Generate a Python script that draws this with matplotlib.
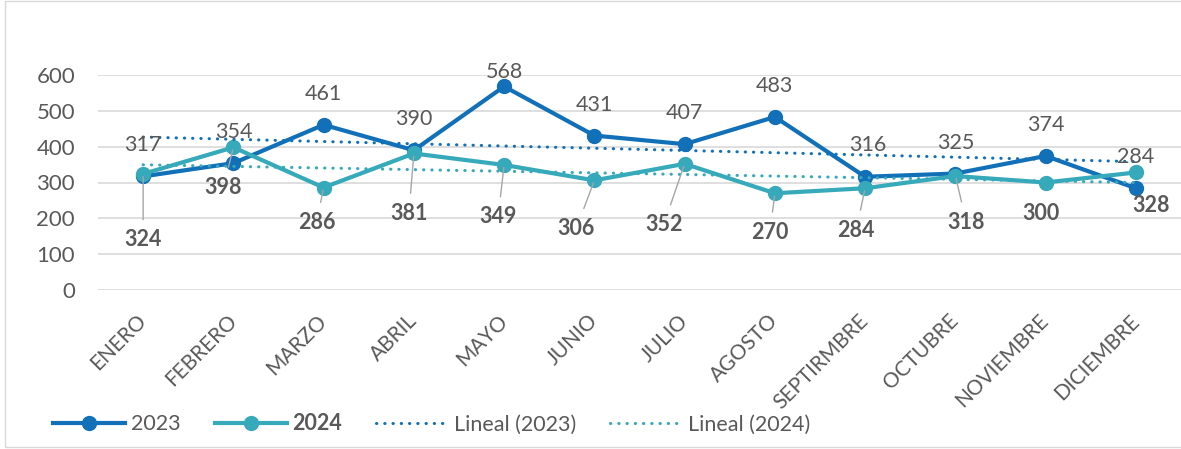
import numpy as np
import matplotlib
matplotlib.use("Agg")
import matplotlib.pyplot as plt
from matplotlib.lines import Line2D
from matplotlib.patches import Rectangle

meses = ["ENERO", "FEBRERO", "MARZO", "ABRIL", "MAYO", "JUNIO", "JULIO",
         "AGOSTO", "SEPTIRMBRE", "OCTUBRE", "NOVIEMBRE", "DICIEMBRE"]
v2023 = [317, 354, 461, 390, 568, 431, 407, 483, 316, 325, 374, 284]
v2024 = [324, 398, 286, 381, 349, 306, 352, 270, 284, 318, 300, 328]

# label offsets in pixels (Excel moved some of them around)
off2023 = [(0, 31)] * 4 + [(0, 14)] + [(0, 31)] * 3 + [(3, 32)] + [(0, 31)] * 3
off2024 = [(0, -66), (-10, -40), (-7, -35), (-5, -60), (-6, -52), (-18, -48),
           (-21, -61), (-5, -39), (-9, -42), (11, -46), (-5, -31), (15, -33)]
leader2024 = [True] * 10 + [False, False]

c23 = "#1170b8"
c24 = "#36a9ba"
gris = "#595959"

plt.rcParams["font.family"] = ["Lato", "DejaVu Sans"]

fig = plt.figure(figsize=(11.81, 4.49), dpi=100)
fig.patches.append(Rectangle((5 / 1181, 2 / 449), 1.2, 1 - 3 / 449,
                             transform=fig.transFigure, fill=False,
                             edgecolor="#d9d9d9", linewidth=1))
ax = fig.add_axes([98 / 1181, 1 - 290 / 449, 1083 / 1181, 215 / 449])

x = np.arange(len(meses))

ax.plot(x, v2023, color=c23, linewidth=3, marker="o", markersize=10,
        solid_capstyle="round", zorder=3, label="2023")
ax.plot(x, v2024, color=c24, linewidth=3, marker="o", markersize=10,
        solid_capstyle="round", zorder=4, label="2024")

# linear trend lines
for vals, col, lab in [(v2023, c23, "Lineal (2023)"), (v2024, c24, "Lineal (2024)")]:
    m, b = np.polyfit(x, vals, 1)
    ax.plot(x, m * x + b, color=col, linewidth=2.2, linestyle=(0, (0.1, 2.6)),
            dash_capstyle="round", zorder=5, label=lab)

for i, v in enumerate(v2023):
    ax.annotate(str(v), (x[i], v), xytext=off2023[i], textcoords="offset pixels",
                ha="center", va="center", fontsize=15.5, color=gris,
                annotation_clip=False, zorder=6)

for i, v in enumerate(v2024):
    props = None
    if leader2024[i]:
        props = dict(arrowstyle="-", color="#a6a6a6", lw=1, shrinkA=5, shrinkB=2)
    ax.annotate(str(v), (x[i], v), xytext=off2024[i], textcoords="offset pixels",
                ha="center", va="center", fontsize=15.5, fontweight="bold",
                color=gris, arrowprops=props, annotation_clip=False, zorder=6)

ax.set_xlim(-0.5, len(meses) - 0.5)
ax.set_ylim(0, 600)
ax.set_yticks(range(0, 601, 100))
ax.yaxis.grid(True, color="#d9d9d9", linewidth=1.2)
ax.set_axisbelow(True)
for s in ax.spines.values():
    s.set_visible(False)
ax.tick_params(axis="both", length=0, colors=gris)
ax.tick_params(axis="y", pad=16.5, labelsize=16)
ax.set_xticks(x)
ax.set_xticklabels(meses, rotation=45, ha="right", va="center",
                   rotation_mode="anchor", fontsize=15, color=gris)
ax.tick_params(axis="x", pad=20)

handles = [
    Line2D([], [], color=c23, lw=3, marker="o", markersize=10),
    Line2D([], [], color=c24, lw=3, marker="o", markersize=10),
    Line2D([], [], color=c23, lw=2.2, linestyle=(0, (0.1, 2.6)), dash_capstyle="round"),
    Line2D([], [], color=c24, lw=2.2, linestyle=(0, (0.1, 2.6)), dash_capstyle="round"),
]
leg = fig.legend(handles, ["2023", "2024", "Lineal (2023)", "Lineal (2024)"],
                 loc="center left", bbox_to_anchor=(53 / 1181, 1 - 424 / 449),
                 ncol=4, frameon=False, fontsize=15.5, handlelength=3.35,
                 handletextpad=0.25, columnspacing=1.6, borderpad=0,
                 borderaxespad=0)
for t in leg.get_texts():
    t.set_color(gris)
leg.get_texts()[1].set_fontweight("bold")

fig.savefig("out.png", dpi=100)
